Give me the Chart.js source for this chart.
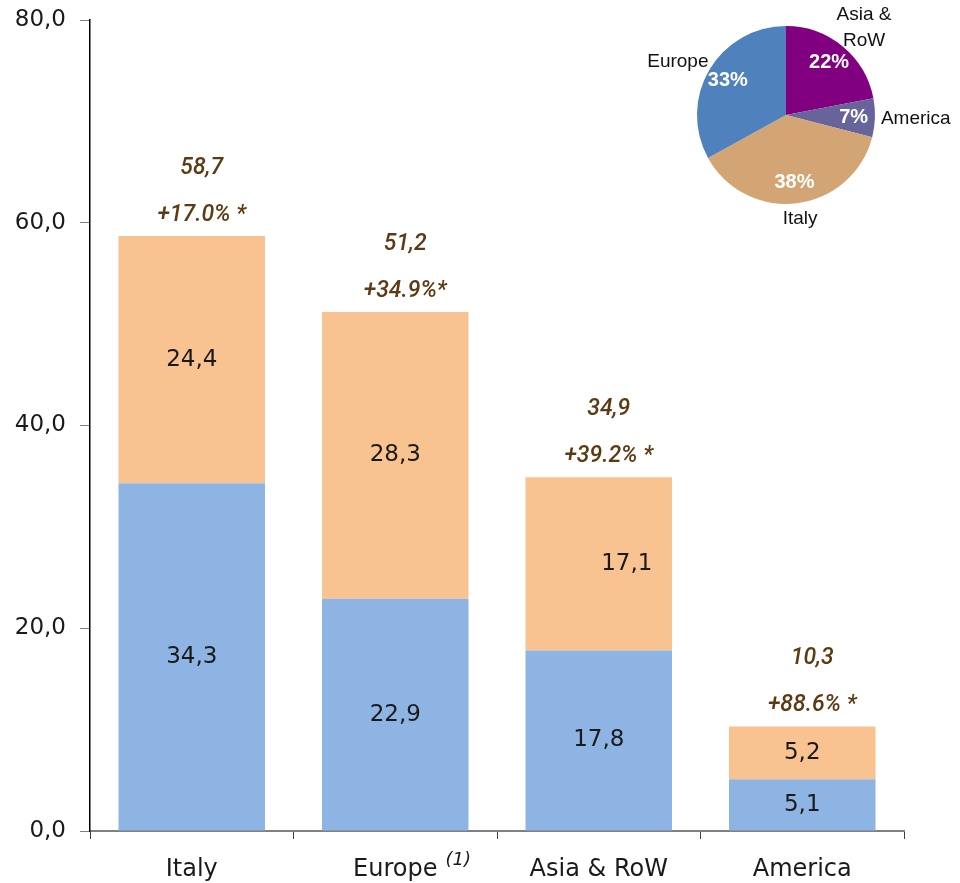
<!DOCTYPE html>
<html lang="en">
<head>
    <meta charset="UTF-8">
    <title>Revenues by area</title>
    <script src="https://cdn.jsdelivr.net/npm/chart.js"></script>
    <style>
        body { margin: 0; background: #fff; }
        #wrap { position: relative; width: 960px; height: 883px; }
        #barChart { position: absolute; left: 0; top: 0; }
        #pieChart { position: absolute; left: 620px; top: 0; }
    </style>
</head>
<body>
<div id="wrap">
    <canvas id="barChart" width="960" height="883"></canvas>
    <canvas id="pieChart" width="340" height="240"></canvas>
</div>
<script>
    const categories = ['Italy', 'Europe', 'Asia & RoW', 'America'];
    const baseValues = [34.3, 22.9, 17.8, 5.1];
    const addedValues = [24.4, 28.3, 17.1, 5.2];
    const totals = [58.7, 51.2, 34.9, 10.3];
    const growth = ['+17.0% *', '+34.9%*', '+39.2% *', '+88.6% *'];
    const yTicks = [0, 20, 40, 60, 80];

    const pieLabels = [['Asia &', 'RoW'], ['America'], ['Italy'], ['Europe']];
    const pieShares = [22, 7, 38, 33];

    const gothic = "'Century Gothic', 'DejaVu Sans', sans-serif";
    const fmt = v => v.toFixed(1).replace('.', ',');

    // value inside each segment, totals and growth above each stack
    const barLabels = {
        id: 'barLabels',
        afterDatasetsDraw(chart) {
            const ctx = chart.ctx;
            ctx.save();
            ctx.textAlign = 'center';
            ctx.textBaseline = 'middle';
            ctx.font = '23px ' + gothic;
            ctx.fillStyle = '#1a1a1a';
            chart.data.datasets.forEach((ds, di) => {
                chart.getDatasetMeta(di).data.forEach((bar, i) => {
                    const dx = (di === 1 && i === 2) ? 28 : 0;
                    ctx.fillText(fmt(ds.data[i]), bar.x + dx, (bar.y + bar.base) / 2);
                });
            });
            const top = chart.getDatasetMeta(1).data;
            ctx.font = 'italic 500 23px Roboto, sans-serif';
            ctx.fillStyle = '#5c3a12';
            top.forEach((bar, i) => {
                ctx.fillText(growth[i], bar.x + 10, bar.y - 21);
                ctx.fillText(fmt(totals[i]), bar.x + 10, bar.y - 68);
            });
            // footnote marker next to the Europe category label
            const xs = chart.scales.x;
            ctx.font = '24px ' + gothic;
            const w = ctx.measureText(categories[1]).width;
            ctx.font = 'italic 18px ' + gothic;
            ctx.fillStyle = '#1a1a1a';
            ctx.textAlign = 'left';
            ctx.fillText('(1)', xs.getPixelForValue(1) + w / 2 + 8, 860);
            ctx.restore();
        }
    };

    new Chart(document.getElementById('barChart'), {
        type: 'bar',
        data: {
            labels: categories,
            datasets: [
                { data: baseValues, backgroundColor: '#8eb4e3', barPercentage: 0.72, categoryPercentage: 1 },
                { data: addedValues, backgroundColor: '#f9c291', barPercentage: 0.72, categoryPercentage: 1 }
            ]
        },
        options: {
            responsive: false,
            animation: false,
            layout: { padding: { top: 20, right: 56, bottom: 0, left: 0 } },
            plugins: { legend: { display: false }, tooltip: { enabled: false } },
            scales: {
                x: {
                    stacked: true,
                    z: 1,
                    border: { color: '#808080', width: 2 },
                    grid: { offset: true, drawOnChartArea: false, drawTicks: true, tickLength: 8, color: '#404040', tickWidth: 1 },
                    ticks: { font: { size: 24, family: gothic }, color: '#1a1a1a', padding: 16 },
                    afterFit(s) { s.height = 52; s.paddingLeft = 0; s.paddingRight = 0; }
                },
                y: {
                    stacked: true,
                    min: 0,
                    max: 80,
                    border: { color: '#000', width: 1.5 },
                    grid: { drawOnChartArea: false, tickLength: 10, color: '#808080' },
                    afterBuildTicks(s) { s.ticks = yTicks.map(v => ({ value: v })); },
                    ticks: {
                        font: { size: 23, family: gothic },
                        color: '#1a1a1a',
                        padding: 14,
                        callback: v => fmt(v)
                    },
                    afterFit(s) { s.width = 90; s.paddingTop = 0; s.paddingBottom = 0; }
                }
            }
        },
        plugins: [barLabels]
    });

    // percentages inside the slices and area names around the pie
    const pieText = {
        id: 'pieText',
        afterDatasetsDraw(chart) {
            const ctx = chart.ctx;
            ctx.save();
            ctx.textBaseline = 'middle';
            chart.getDatasetMeta(0).data.forEach((arc, i) => {
                const mid = (arc.startAngle + arc.endAngle) / 2;
                const cx = Math.cos(mid), cy = Math.sin(mid);
                const r = arc.outerRadius;
                ctx.textAlign = 'center';
                ctx.font = 'bold 20px "Liberation Sans", Arial, sans-serif';
                ctx.fillStyle = '#fff';
                ctx.fillText(pieShares[i] + '%', arc.x + cx * r * 0.76, arc.y + cy * r * 0.76);

                ctx.font = '19px "Liberation Sans", Arial, sans-serif';
                ctx.fillStyle = '#111';
                const lines = pieLabels[i];
                const w = Math.max(...lines.map(l => ctx.measureText(l).width));
                const lh = 26;
                const h = lines.length * lh;
                const ax = arc.x + cx * (r + 6) + cx * w / 2;
                const ay = arc.y + cy * (r + 6) + cy * h * 0.35;
                lines.forEach((l, k) => ctx.fillText(l, ax, ay - h / 2 + lh / 2 + k * lh));
            });
            ctx.restore();
        }
    };

    new Chart(document.getElementById('pieChart'), {
        type: 'pie',
        data: {
            labels: pieLabels.map(l => l.join(' ')),
            datasets: [{
                data: pieShares,
                backgroundColor: ['#800080', '#67649c', '#d3a574', '#4f81bd'],
                borderWidth: 0
            }]
        },
        options: {
            responsive: false,
            animation: false,
            layout: { padding: { left: 77, right: 85, top: 26, bottom: 36 } },
            plugins: { legend: { display: false }, tooltip: { enabled: false } }
        },
        plugins: [pieText]
    });
</script>
</body>
</html>
